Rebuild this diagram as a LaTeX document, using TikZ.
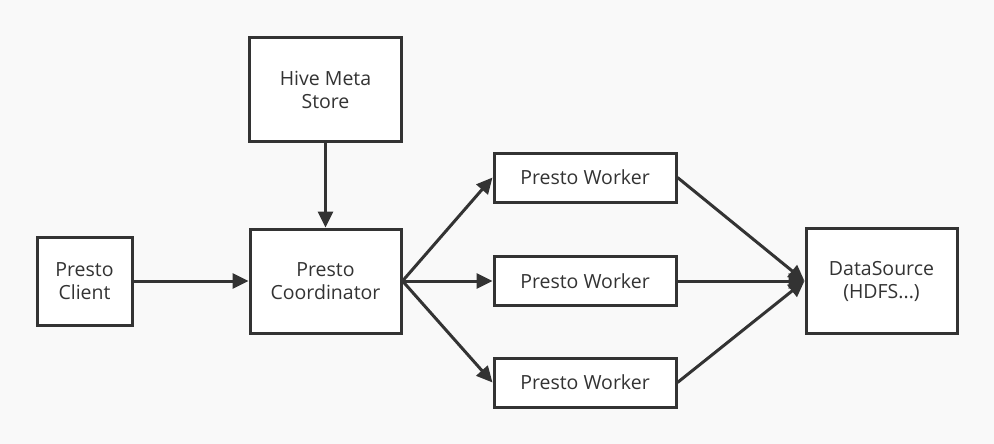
\documentclass[tikz,border=0pt]{standalone}
\usepackage{fontspec}
\setmainfont{Open Sans}
\usetikzlibrary{arrows.meta}
\definecolor{ink}{HTML}{333333}
\definecolor{paper}{HTML}{F9F9F9}

\begin{document}
\begin{tikzpicture}[x=1pt,y=-1pt]
   \tikzstyle{every node}=[font=\fontsize{19.5}{23}\selectfont, text=ink]
   \tikzstyle{component}=[draw=ink, line width=3pt, fill=white, align=center, inner sep=0pt]
   \tikzstyle{flow}=[draw=ink, line width=3pt, -{Triangle[length=16pt,width=15pt]}]

   \fill[paper] (0,0) rectangle (994,444);
   \useasboundingbox (0,0) rectangle (994,444);

   \node[component, minimum width=152pt, minimum height=104pt] (HiveMetaStore) at (325.5,89.5) {Hive Meta\\Store};
   \node[component, minimum width=95pt, minimum height=88pt] (PrestoClient) at (84.5,281) {Presto\\Client};
   \node[component, minimum width=151pt, minimum height=104pt] (PrestoCoordinator) at (325.5,281) {Presto\\Coordinator};

   \node[component, minimum width=182pt, minimum height=49pt] (PrestoWorkerA) at (585,177.5) {Presto Worker};
   \node[component, minimum width=182pt, minimum height=49pt] (PrestoWorkerB) at (585,281) {Presto Worker};
   \node[component, minimum width=182pt, minimum height=49pt] (PrestoWorkerC) at (585,382.5) {Presto Worker};

   \node[component, minimum width=151pt, minimum height=105pt] (DataSource) at (881.5,281) {DataSource\\(HDFS...)};

   \draw[flow] (HiveMetaStore) -- (PrestoCoordinator);
   \draw[flow] (PrestoClient) -- (PrestoCoordinator);
   \draw[flow] (PrestoCoordinator.east) -- (PrestoWorkerA.west);
   \draw[flow] (PrestoCoordinator.east) -- (PrestoWorkerB.west);
   \draw[flow] (PrestoCoordinator.east) -- (PrestoWorkerC.west);
   \draw[flow] (PrestoWorkerA.east) -- (DataSource.west);
   \draw[flow] (PrestoWorkerB.east) -- (DataSource.west);
   \draw[flow] (PrestoWorkerC.east) -- (DataSource.west);
\end{tikzpicture}
\end{document}
